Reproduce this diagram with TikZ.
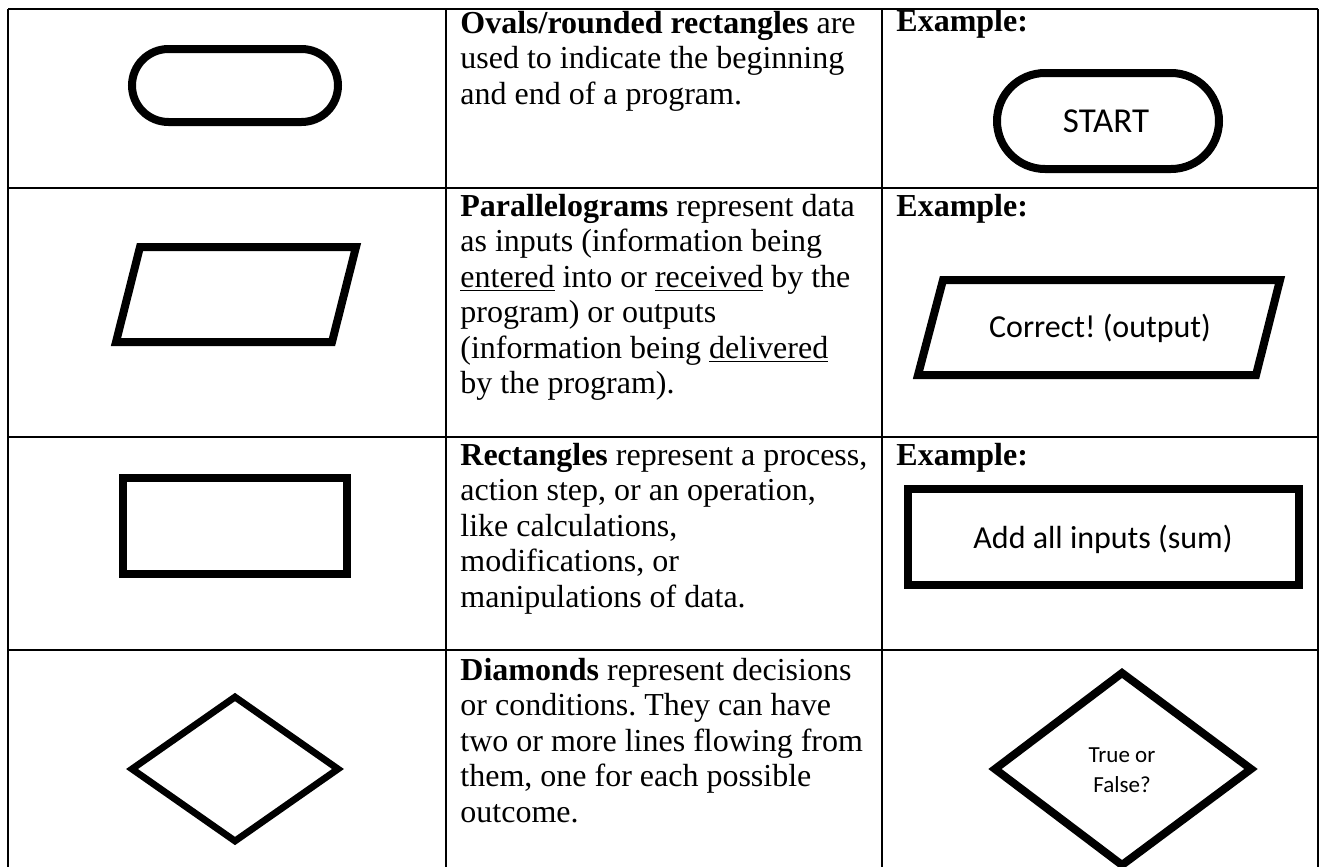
\documentclass[tikz,border=0pt]{standalone}
\usepackage{fontspec}
\setmainfont{Liberation Serif}
\newfontfamily\exfont{Carlito}
\frenchspacing

\begin{document}
\begin{tikzpicture}[x=0.5pt,y=-0.5pt,
  tableline/.style={line width=1.2pt},
  symbol/.style={line width=4pt},
  thinsymbol/.style={line width=3.4pt},
  desc/.style={anchor=north west,inner sep=0pt,align=left,font=\fontsize{16}{17.75}\selectfont},
  exhead/.style={anchor=base west,inner sep=0pt,font=\fontsize{16}{17.75}\selectfont\bfseries},
  extext/.style={anchor=base,inner sep=0pt,font=\exfont\fontsize{16}{19}\selectfont}]
  \useasboundingbox (0,0) rectangle (1328,867);
  \draw[tableline] (8,9) -- (1318,9);
  \draw[tableline] (8,188) -- (1318,188);
  \draw[tableline] (8,437) -- (1318,437);
  \draw[tableline] (8,650) -- (1318,650);
  \foreach \x in {8,446,882,1318}
    \draw[tableline] (\x,9) -- (\x,867);

  \draw[symbol,rounded corners=18.25pt] (132,49) rectangle (338,122);
  \draw[symbol] (140,247) -- (356,247) -- (332,342) -- (116,342) -- cycle;
  \draw[symbol] (123,478) rectangle (347,574);
  \draw[thinsymbol] (235,697) -- (338,769) -- (235,841) -- (132,769) -- cycle;

  \node[desc] (ovaldesc) at (460,8.15) {\strut\textbf{Ovals/rounded rectangles} are\\used to indicate the beginning\\and end of a program.};
  \node[desc] (paradesc) at (460,191.15) {\strut\textbf{Parallelograms} represent data\\as inputs (information being\\\underline{entered} into or \underline{received} by the\\program) or outputs\\(information being \underline{delivered}\\by the program).};
  \node[desc] (rectdesc) at (460,440.15) {\strut\textbf{Rectangles} represent a process,\\action step, or an operation,\\like calculations,\\modifications, or\\manipulations of data.};
  \node[desc] (diadesc) at (460,655.15) {\strut\textbf{Diamonds} represent decisions\\or conditions. They can have\\two or more lines flowing from\\them, one for each possible\\outcome.};

  \node[exhead] (ex1) at (896,32) {Example:};
  \node[exhead] (ex2) at (896,216) {Example:};
  \node[exhead] (ex3) at (896,465) {Example:};

  \draw[symbol,rounded corners=24pt] (997,73) rectangle (1219,169);
  \node[extext,font=\exfont\fontsize{17.5}{20}\selectfont] (start) at (1106,132) {START};
  \draw[symbol] (943,280) -- (1280,280) -- (1256,375) -- (918,375) -- cycle;
  \node[extext] (correct) at (1100,337) {Correct! (output)};
  \draw[symbol] (908,489) rectangle (1299,585);
  \node[extext] (addsum) at (1103,548) {Add all inputs (sum)};
  \draw[symbol] (1122,673) -- (1251,769) -- (1122,865) -- (995,769) -- cycle;
  \node[align=center,inner sep=0pt,font=\exfont\fontsize{11.5}{15}\selectfont] (truefalse) at (1122,770) {True or\\False?};
\end{tikzpicture}
\end{document}
